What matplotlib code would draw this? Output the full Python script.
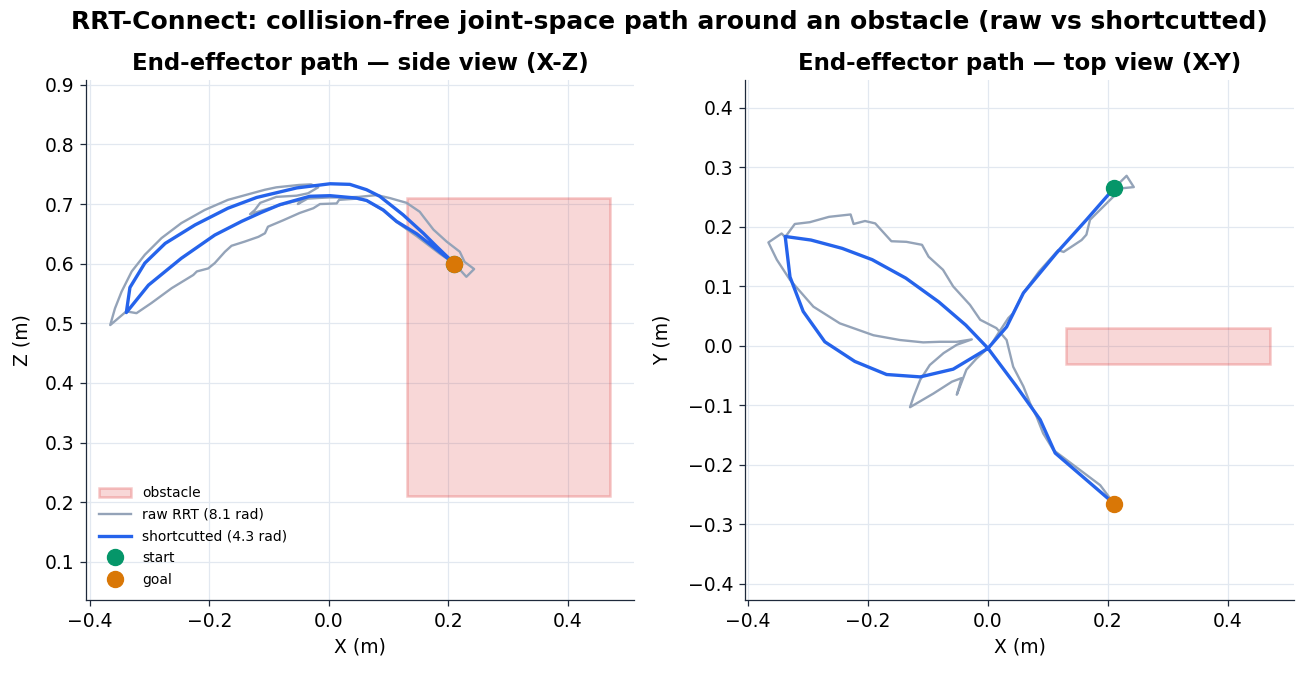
import matplotlib
matplotlib.use("Agg")
import matplotlib.pyplot as plt
from matplotlib.patches import Rectangle

# ---------------- data ----------------
start_xyz = (0.21, 0.265, 0.60)
goal_xyz = (0.21, -0.265, 0.60)
obstacle_x = (0.13, 0.47)
obstacle_y = (-0.03, 0.03)
obstacle_z = (0.21, 0.71)

raw_label = "raw RRT (8.1 rad)"
short_label = "shortcutted (4.3 rad)"

# side view (X-Z) of raw path
side_raw_x = [0.210, 0.230, 0.243, 0.227, 0.219, 0.197, 0.175, 0.158, 0.152, 0.130, 0.102, 0.080,
              0.050, 0.020, 0.000, -0.020, -0.036, -0.052, -0.044, -0.060, -0.090, -0.132,
              -0.124, -0.115, -0.088, -0.054, -0.035, -0.018, -0.030, -0.050, -0.088, -0.107,
              -0.129, -0.169, -0.208, -0.247, -0.280, -0.308, -0.330, -0.347, -0.358, -0.366,
              -0.339, -0.322, -0.297, -0.263, -0.227, -0.221, -0.202, -0.191, -0.174, -0.163,
              -0.141, -0.118, -0.107, -0.102, -0.076, -0.049, -0.026, -0.015, 0.013, 0.017,
              0.046, 0.063, 0.091, 0.113, 0.147, 0.185, 0.210]
side_raw_z = [0.600, 0.578, 0.591, 0.603, 0.620, 0.637, 0.657, 0.679, 0.687, 0.702, 0.710, 0.715,
              0.712, 0.711, 0.711, 0.710, 0.709, 0.700, 0.707, 0.704, 0.696, 0.683,
              0.690, 0.702, 0.712, 0.714, 0.718, 0.728, 0.733, 0.732, 0.728, 0.724,
              0.718, 0.707, 0.690, 0.668, 0.643, 0.615, 0.587, 0.553, 0.525, 0.497,
              0.520, 0.517, 0.534, 0.559, 0.581, 0.587, 0.592, 0.601, 0.620, 0.630,
              0.637, 0.645, 0.651, 0.662, 0.673, 0.685, 0.693, 0.700, 0.701, 0.707,
              0.709, 0.706, 0.689, 0.670, 0.646, 0.617, 0.600]

# top view (X-Y) of raw path
top_raw_x = [0.210, 0.231, 0.243, 0.223, 0.198, 0.170, 0.164, 0.156, 0.126, 0.117, 0.085, 0.059,
             0.042, 0.034, 0.017, 0.003, -0.019, -0.036, -0.052, -0.044, -0.060, -0.091, -0.130,
             -0.124, -0.113, -0.097, -0.074, -0.052, -0.027, -0.052, -0.080, -0.108, -0.147,
             -0.191, -0.247, -0.291, -0.330, -0.352, -0.366, -0.344, -0.338, -0.322, -0.297,
             -0.265, -0.229, -0.224, -0.205, -0.188, -0.161, -0.136, -0.110, -0.099, -0.075,
             -0.058, -0.030, -0.013, 0.014, 0.031, 0.042, 0.059, 0.070, 0.081, 0.092, 0.109,
             0.187, 0.210]
top_raw_y = [0.265, 0.286, 0.267, 0.265, 0.240, 0.212, 0.187, 0.178, 0.158, 0.161, 0.125, 0.089,
             0.055, 0.047, 0.021, -0.001, -0.021, -0.040, -0.082, -0.054, -0.060, -0.080, -0.103,
             -0.085, -0.057, -0.032, -0.012, 0.002, 0.011, 0.007, 0.007, 0.006, 0.010,
             0.018, 0.038, 0.066, 0.111, 0.145, 0.174, 0.189, 0.183, 0.205, 0.208,
             0.217, 0.221, 0.205, 0.210, 0.206, 0.176, 0.175, 0.170, 0.150, 0.128,
             0.100, 0.069, 0.044, 0.030, 0.010, -0.035, -0.068, -0.096, -0.119, -0.147, -0.175,
             -0.234, -0.265]

# shortcutted path
side_short_x = [0.210, 0.180, 0.158, 0.124, 0.085, 0.063, 0.035, 0.002, -0.054, -0.121, -0.169,
                -0.224, -0.274, -0.308, -0.333, -0.339, -0.302, -0.247, -0.191, -0.146, -0.113,
                -0.082, -0.032, 0.002, 0.046, 0.063, 0.091, 0.113, 0.147, 0.175, 0.210]
side_short_z = [0.600, 0.629, 0.651, 0.682, 0.713, 0.724, 0.733, 0.734, 0.727, 0.711, 0.693,
                0.665, 0.634, 0.601, 0.560, 0.518, 0.564, 0.609, 0.648, 0.671, 0.686,
                0.699, 0.713, 0.714, 0.710, 0.706, 0.690, 0.671, 0.650, 0.628, 0.600]

top_short_x = [0.210, 0.164, 0.114, 0.059, 0.031, 0.000, -0.058, -0.113, -0.169, -0.222, -0.272,
               -0.308, -0.330, -0.338, -0.295, -0.243, -0.193, -0.137, -0.082, -0.037, 0.000,
               0.046, 0.087, 0.112, 0.210]
top_short_y = [0.265, 0.212, 0.156, 0.089, 0.032, -0.004, -0.039, -0.052, -0.048, -0.026, 0.007,
               0.058, 0.116, 0.184, 0.178, 0.164, 0.145, 0.114, 0.074, 0.035, -0.004,
               -0.066, -0.124, -0.180, -0.265]

# ---------------- style ----------------
C_RAW = "#94a3b8"
C_SHORT = "#2563eb"
C_START = "#059669"
C_GOAL = "#d97706"
C_GRID = "#e2e8f0"
C_SPINE = "#1e293b"
OBS_FACE = (0.863, 0.149, 0.149, 0.18)
OBS_EDGE = (0.863, 0.149, 0.149, 0.25)

FS_TICK = 13.5
FS_LABEL = 13.5
FS_TITLE = 16.5
FS_SUP = 18.0
FS_LEG = 10

W, H = 1306, 673
fig = plt.figure(figsize=(W / 100, H / 100), dpi=100)


def px_axes(x0, y0, x1, y1):
    return fig.add_axes([x0 / W, 1 - y1 / H, (x1 - x0) / W, (y1 - y0) / H])


ax1 = px_axes(86, 80, 634, 600)
ax2 = px_axes(745, 80, 1294, 600)


def style(ax):
    ax.set_axisbelow(True)
    ax.grid(True, color=C_GRID, linewidth=0.9)
    for s in ("top", "right"):
        ax.spines[s].set_visible(False)
    for s in ("left", "bottom"):
        ax.spines[s].set_color(C_SPINE)
        ax.spines[s].set_linewidth(0.9)
    ax.tick_params(labelsize=FS_TICK, colors=C_SPINE, length=4.5, width=0.9, pad=4)
    for t in ax.get_xticklabels() + ax.get_yticklabels():
        t.set_color("black")


# side view
ax1.add_patch(Rectangle((obstacle_x[0], obstacle_z[0]), obstacle_x[1] - obstacle_x[0],
                        obstacle_z[1] - obstacle_z[0], facecolor=OBS_FACE,
                        edgecolor=OBS_EDGE, linewidth=1.8, zorder=1, label="obstacle"))
ax1.plot(side_raw_x, side_raw_z, color=C_RAW, lw=1.7, zorder=2, label=raw_label,
         solid_joinstyle="round")
ax1.plot(side_short_x, side_short_z, color=C_SHORT, lw=2.4, zorder=3, label=short_label,
         solid_joinstyle="round")
ax1.plot([start_xyz[0]], [start_xyz[2]], "o", color=C_START, ms=11.5, zorder=4, label="start",
         linestyle="none")
ax1.plot([goal_xyz[0]], [goal_xyz[2]], "o", color=C_GOAL, ms=11.5, zorder=5, label="goal",
         linestyle="none")
ax1.set_xlim(-0.4065, 0.5105)
ax1.set_ylim(0.036, 0.908)
ax1.set_xticks([-0.4, -0.2, 0.0, 0.2, 0.4])
ax1.set_yticks([0.1, 0.2, 0.3, 0.4, 0.5, 0.6, 0.7, 0.8, 0.9])
ax1.set_xlabel("X (m)", fontsize=FS_LABEL, labelpad=5)
ax1.set_ylabel("Z (m)", fontsize=FS_LABEL, labelpad=9.5)
ax1.set_title("End-effector path — side view (X-Z)", fontsize=FS_TITLE, fontweight="bold", pad=7)
style(ax1)
ax1.legend(loc="lower left", frameon=False, fontsize=FS_LEG, handlelength=2.3,
           borderaxespad=0.55, labelspacing=0.55, handletextpad=0.8)

# top view
ax2.add_patch(Rectangle((obstacle_x[0], obstacle_y[0]), obstacle_x[1] - obstacle_x[0],
                        obstacle_y[1] - obstacle_y[0], facecolor=OBS_FACE,
                        edgecolor=OBS_EDGE, linewidth=1.8, zorder=1))
ax2.plot(top_raw_x, top_raw_y, color=C_RAW, lw=1.7, zorder=2, solid_joinstyle="round")
ax2.plot(top_short_x, top_short_y, color=C_SHORT, lw=2.4, zorder=3, solid_joinstyle="round")
ax2.plot([start_xyz[0]], [start_xyz[1]], "o", color=C_START, ms=11.5, zorder=4)
ax2.plot([goal_xyz[0]], [goal_xyz[1]], "o", color=C_GOAL, ms=11.5, zorder=5)
ax2.set_xlim(-0.405, 0.51)
ax2.set_ylim(-0.427, 0.447)
ax2.set_xticks([-0.4, -0.2, 0.0, 0.2, 0.4])
ax2.set_yticks([-0.4, -0.3, -0.2, -0.1, 0.0, 0.1, 0.2, 0.3, 0.4])
ax2.set_xlabel("X (m)", fontsize=FS_LABEL, labelpad=5)
ax2.set_ylabel("Y (m)", fontsize=FS_LABEL, labelpad=11.5)
ax2.set_title("End-effector path — top view (X-Y)", fontsize=FS_TITLE, fontweight="bold", pad=7)
style(ax2)

fig.suptitle("RRT-Connect: collision-free joint-space path around an obstacle (raw vs shortcutted)",
             fontsize=FS_SUP, fontweight="bold", x=669 / W, y=1 - 10 / H, va="top")

fig.savefig("out.png", dpi=100)
